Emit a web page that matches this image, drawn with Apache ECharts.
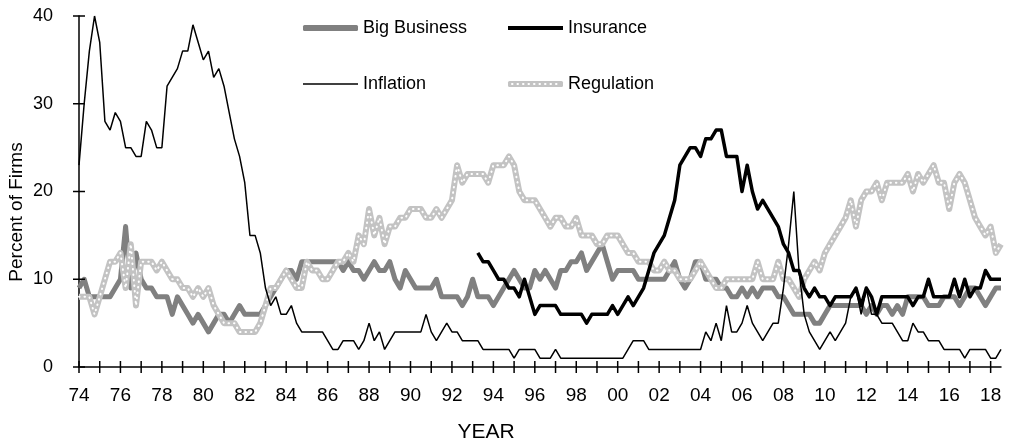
<!DOCTYPE html>
<html lang="en">
<head>
<meta charset="utf-8">
<title>Single most important problem</title>
<script src="https://cdn.jsdelivr.net/npm/echarts@6/dist/echarts.min.js"></script>
<style>
  html, body { margin: 0; padding: 0; background: #fff; }
  #chart { width: 1011px; height: 445px; }
</style>
</head>
<body>
<div id="chart"></div>
<script>
// quarterly readings, 1974Q1 .. 2018Q3
var firstYear = 1974;
var lastTickYear = 2018;
var yearLabels = ['74','76','78','80','82','84','86','88','90','92','94','96',
  '98','00','02','04','06','08','10','12','14','16','18'];

var inflation = [
  23,30,36,40,37,28,27,29,28,25,
  25,24,24,28,27,25,25,32,33,34,
  36,36,39,37,35,36,33,34,32,29,
  26,24,21,15,15,13,9,7,8,6,
  6,7,5,4,4,4,4,4,3,2,
  2,3,3,3,2,3,5,3,4,2,
  3,4,4,4,4,4,4,6,4,3,
  4,5,4,4,3,3,3,3,2,2,
  2,2,2,2,1,2,2,2,2,1,
  1,1,2,1,1,1,1,1,1,1,
  1,1,1,1,1,1,2,3,3,3,
  2,2,2,2,2,2,2,2,2,2,
  2,4,3,5,3,7,4,4,5,7,
  5,4,3,4,5,5,9,14,20,11,
  6,4,3,2,3,4,3,4,5,8,
  9,6,9,6,6,5,5,5,4,3,
  3,5,4,4,3,3,3,2,2,2,
  2,1,2,2,2,2,1,1,2
];

var bigBusiness = [
  9,10,8,8,8,8,8,9,10,16,
  9,13,10,9,9,8,8,8,6,8,
  7,6,5,6,5,4,5,6,6,5,
  6,7,6,6,6,6,7,8,9,10,
  11,11,10,12,12,12,12,12,12,12,
  12,11,12,11,11,10,11,12,11,11,
  12,10,9,11,10,9,9,9,9,10,
  8,8,8,8,7,8,10,8,8,8,
  7,8,9,10,11,10,9,9,11,10,
  11,10,9,11,11,12,12,13,11,12,
  13,14,12,10,11,11,11,11,10,10,
  10,10,10,10,11,12,10,9,10,12,
  12,10,10,10,9,9,8,8,9,8,
  9,8,9,9,9,8,8,7,6,6,
  6,6,5,5,6,7,7,7,7,7,
  7,7,6,7,6,7,7,6,7,6,
  8,8,8,8,7,7,7,8,8,8,
  7,8,9,9,8,7,8,9,9
];

var regulation = [
  8,8,8,6,8,10,12,12,13,9,
  14,7,12,12,12,11,12,11,10,10,
  9,9,8,9,8,9,7,6,5,5,
  5,4,4,4,4,5,7,9,9,10,
  11,10,9,9,12,11,11,10,10,11,
  12,12,13,12,15,14,18,15,17,14,
  16,16,17,17,18,18,18,17,17,18,
  17,18,19,23,21,22,22,22,22,21,
  23,23,23,24,23,20,19,19,19,18,
  17,16,17,17,16,16,17,15,15,15,
  14,14,15,15,15,14,13,13,12,12,
  12,11,11,12,11,11,10,10,10,11,
  12,11,10,9,9,10,10,10,10,10,
  10,12,10,10,10,12,10,10,9,8,
  10,11,12,11,13,14,15,16,17,19,
  16,19,20,20,21,19,21,21,21,21,
  22,20,22,21,22,23,21,21,18,21,
  22,21,19,17,16,15,16,13,14
];

// insurance series starts 1993Q2
var insuranceStart = 77;
var insuranceVals = [
  13,12,12,
  11,10,10,9,9,8,10,8,6,7,
  7,7,7,6,6,6,6,6,5,6,
  6,6,6,7,6,7,8,7,8,9,
  11,13,14,15,17,19,23,24,25,25,
  24,26,26,27,27,24,24,24,20,23,
  20,18,19,18,17,16,14,13,11,11,
  9,8,9,8,8,7,8,8,8,8,
  9,7,9,8,6,8,8,8,8,8,
  8,7,8,8,10,8,8,8,8,10,
  8,10,8,9,9,11,10,10,10
];

// pair each quarterly value with its date (year + quarter/4)
function byQuarter(vals, start) {
  var out = [];
  for (var i = 0; i < vals.length; i++) {
    out.push([firstYear + (start + i) / 4, vals[i]]);
  }
  return out;
}
var lastYear = firstYear + (inflation.length - 1) / 4;

// year ticks crossing the x axis line, and the y ticks crossing the y axis
var yearTicks = [];
for (var y = firstYear; y <= lastTickYear; y++) yearTicks.push([y, 0]);
var yTickValues = [0, 10, 20, 30, 40];
var yTicks = yTickValues.map(function (v) { return [firstYear, v]; });

var FONT = "'Liberation Sans', Arial, sans-serif";
var TICK = 6;

// one legend per entry so the 2x2 block lines up like the original
function legendAt(name, left, top, thick, round) {
  return {
    data: [name], left: left, top: top,
    icon: round ? 'roundRect' : 'rect',
    itemWidth: 55, itemHeight: thick, padding: 0,
    selectedMode: false,
    textStyle: { fontSize: 18, color: '#000', fontFamily: FONT }
  };
}

function yearLabel(v) {
  if (v % 2 !== 0 || v !== Math.floor(v)) return '';
  return yearLabels[(v - firstYear) / 2] || '';
}

// draws a short black line through a point on an axis
function tickRenderer(vertical) {
  return function (params, api) {
    var p = api.coord([api.value(0), api.value(1)]);
    var shape = vertical
      ? { x1: p[0], y1: p[1] - TICK, x2: p[0], y2: p[1] + TICK }
      : { x1: p[0] - TICK, y1: p[1], x2: p[0] + TICK, y2: p[1] };
    return { type: 'line', shape: shape, style: { stroke: '#000', lineWidth: 1.5 } };
  };
}

var chart = echarts.init(document.getElementById('chart'));
var option = {
  animation: false,
  backgroundColor: '#fff',
  grid: { left: 79, right: 10, top: 16, bottom: 78 },
  legend: [
    legendAt('Big Business', 303, 19, 6, true),
    legendAt('Insurance', 508, 19, 4, false),
    legendAt('Inflation', 303, 75, 1.5, false),
    legendAt('Regulation', 508, 75, 6, true)
  ],
  xAxis: {
    type: 'value', min: firstYear, max: lastYear, interval: 1, position: 'bottom',
    axisLine: { show: true, onZero: false, lineStyle: { color: '#000', width: 1.5 } },
    axisTick: { show: false },
    axisLabel: { formatter: yearLabel, showMaxLabel: false,
      margin: 19, fontSize: 19, color: '#000', fontFamily: FONT },
    splitLine: { show: false }
  },
  yAxis: {
    type: 'value', min: 0, max: 40, interval: 10, position: 'left',
    axisLine: { show: true, lineStyle: { color: '#000', width: 1.5 } },
    axisTick: { show: false },
    axisLabel: { margin: 26, fontSize: 18, color: '#000', fontFamily: FONT },
    splitLine: { show: false }
  },
  graphic: [
    { type: 'text', x: 486, y: 432, style: { text: 'YEAR', fontSize: 21, fill: '#000',
      fontFamily: FONT, align: 'center', verticalAlign: 'middle' } },
    { type: 'text', x: 17, y: 212, rotation: Math.PI / 2, style: { text: 'Percent of Firms',
      fontSize: 19, fill: '#000', fontFamily: FONT, align: 'center', verticalAlign: 'middle' } },
    // white dots on the Regulation legend swatch
    { type: 'line', z: 100, shape: { x1: 512, y1: 84, x2: 560, y2: 84 },
      style: { stroke: '#fff', lineWidth: 2, lineDash: [0.5, 5], lineCap: 'round' } }
  ],
  series: [
    { name: 'Big Business', type: 'line', data: byQuarter(bigBusiness, 0), symbol: 'none',
      lineStyle: { color: '#808080', width: 5, join: 'round' }, itemStyle: { color: '#808080' } },
    { name: 'Regulation', type: 'line', data: byQuarter(regulation, 0), symbol: 'none',
      lineStyle: { color: '#c3c3c3', width: 6, join: 'round' }, itemStyle: { color: '#c3c3c3' } },
    { name: 'regDots', type: 'line', data: byQuarter(regulation, 0), symbol: 'none', silent: true,
      lineStyle: { color: '#fff', width: 2, type: [0.5, 5], cap: 'round' } },
    { name: 'Insurance', type: 'line', data: byQuarter(insuranceVals, insuranceStart), symbol: 'none',
      lineStyle: { color: '#000', width: 3.5, join: 'round' }, itemStyle: { color: '#000' } },
    { name: 'Inflation', type: 'line', data: byQuarter(inflation, 0), symbol: 'none',
      lineStyle: { color: '#000', width: 1.5 }, itemStyle: { color: '#000' } },
    { name: 'xTicks', type: 'custom', data: yearTicks, renderItem: tickRenderer(true),
      clip: false, silent: true, z: 10 },
    { name: 'yTicks', type: 'custom', data: yTicks, renderItem: tickRenderer(false),
      clip: false, silent: true, z: 10 }
  ]
};
chart.setOption(option);
</script>
</body>
</html>
